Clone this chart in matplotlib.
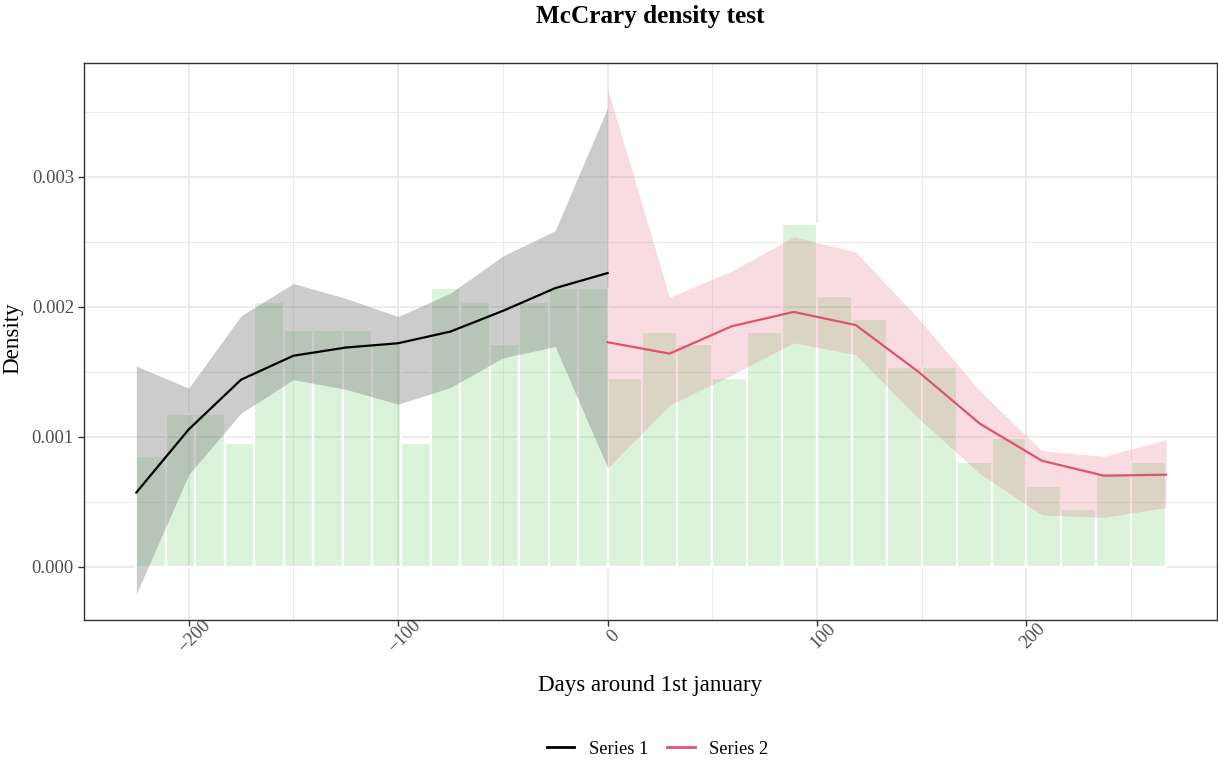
import numpy as np
import matplotlib
matplotlib.use("Agg")
import matplotlib.pyplot as plt
from matplotlib.lines import Line2D
from matplotlib.ticker import MultipleLocator

plt.rcParams['font.family'] = ['Liberation Serif', 'DejaVu Serif']
plt.rcParams['axes.unicode_minus'] = True

SCALE = 1e-3  # densities below are written in thousandths

# histogram of the running variable, 16 bins each side of the cutoff
left_range = (-225.0, 0.0)
right_range = (0.0, 266.7)
n_bins = 16
left_hist = [0.849, 1.173, 1.173, 0.953, 2.036, 1.822, 1.822, 1.822,
             1.710, 0.953, 2.142, 2.036, 1.712, 2.036, 2.142, 2.142]
right_hist = [1.447, 1.808, 1.715, 1.447, 1.808, 2.633, 2.082, 1.901,
              1.534, 1.534, 0.803, 0.989, 0.619, 0.441, 0.720, 0.803]

# local linear density fits with confidence bands
x_left = [-225, -200, -175, -150, -125, -100, -75, -50, -25, 0]
fit_left = [0.570, 1.055, 1.438, 1.622, 1.685, 1.718, 1.808, 1.967, 2.142, 2.258]
hi_left = [1.542, 1.373, 1.929, 2.178, 2.063, 1.923, 2.104, 2.389, 2.584, 3.529]
lo_left = [-0.211, 0.707, 1.181, 1.438, 1.364, 1.249, 1.378, 1.605, 1.693, 0.762]

x_right = [0.0, 29.6, 59.3, 88.9, 118.5, 148.2, 177.8, 207.4, 237.1, 266.7]
fit_right = [1.726, 1.638, 1.849, 1.959, 1.858, 1.501, 1.099, 0.814, 0.699, 0.707]
hi_right = [3.679, 2.071, 2.274, 2.537, 2.419, 1.912, 1.351, 0.890, 0.849, 0.975]
lo_right = [0.756, 1.241, 1.474, 1.721, 1.630, 1.145, 0.715, 0.397, 0.378, 0.455]

series_names = ['Series 1', 'Series 2']
series_colors = ['black', '#DF536B']

W, H = 1218, 761
fig = plt.figure(figsize=(W / 100, H / 100), dpi=100)
ax = fig.add_axes([84 / W, 1 - 620 / H, (1217 - 84) / W, (620 - 63) / H])

# grid like theme_bw
ax.set_axisbelow(True)
ax.xaxis.set_major_locator(MultipleLocator(100))
ax.xaxis.set_minor_locator(MultipleLocator(50))
ax.yaxis.set_major_locator(MultipleLocator(0.001))
ax.yaxis.set_minor_locator(MultipleLocator(0.0005))
ax.grid(which='major', color='#EBEBEB', lw=1.4)
ax.grid(which='minor', color='#EBEBEB', lw=0.75)
ax.tick_params(which='minor', length=0)

# bars
bar_face = (0.30, 0.77, 0.30, 0.2)
for rng, hist in [(left_range, left_hist), (right_range, right_hist)]:
    edges = np.linspace(rng[0], rng[1], n_bins + 1)
    ax.bar(edges[:-1], np.array(hist) * SCALE, width=np.diff(edges), align='edge',
           facecolor=bar_face, edgecolor='white', linewidth=1.6, zorder=2)

# confidence bands
ax.fill_between(x_left, np.array(lo_left) * SCALE, np.array(hi_left) * SCALE,
                color='#808080', alpha=0.4, lw=0, zorder=3)
ax.fill_between(x_right, np.array(lo_right) * SCALE, np.array(hi_right) * SCALE,
                color='#DF536B', alpha=0.2, lw=0, zorder=3)

# fitted densities
ax.plot(x_left, np.array(fit_left) * SCALE, color=series_colors[0], lw=1.6, zorder=4)
ax.plot(x_right, np.array(fit_right) * SCALE, color=series_colors[1], lw=1.6, zorder=4)

ax.set_xlim(-250, 291)
ax.set_ylim(-0.000411, 0.003874)
ax.yaxis.set_major_formatter(matplotlib.ticker.FormatStrFormatter('%.3f'))

for s in ax.spines.values():
    s.set_color('#333333')
    s.set_linewidth(1.0)
ax.tick_params(which='major', length=4.2, width=1.0, color='#333333',
               labelcolor='#4D4D4D', labelsize=13.3, pad=3)
for lab in ax.get_xticklabels():
    lab.set_rotation(45)
    lab.set_rotation_mode('anchor')
    lab.set_ha('center')
    lab.set_va('top')

fig.text(650.5 / W, 1 - 17 / H, 'McCrary density test', fontsize=18.2,
         fontweight='bold', ha='center', va='center')
fig.text(650.5 / W, 1 - 686 / H, 'Days around 1st january', fontsize=16.6,
         ha='center', va='center')
fig.text(12.5 / W, 1 - 338 / H, 'Density', fontsize=16.6, rotation=90,
         ha='center', va='center')

handles = [Line2D([], [], color=c, lw=2.0) for c in series_colors]
fig.legend(handles, series_names, loc='center', bbox_to_anchor=(657.5 / W, 1 - 749 / H),
           ncol=2, frameon=False, fontsize=13.3, handlelength=1.5,
           handletextpad=0.8, columnspacing=1.0)

fig.savefig('out.png', dpi=100)
